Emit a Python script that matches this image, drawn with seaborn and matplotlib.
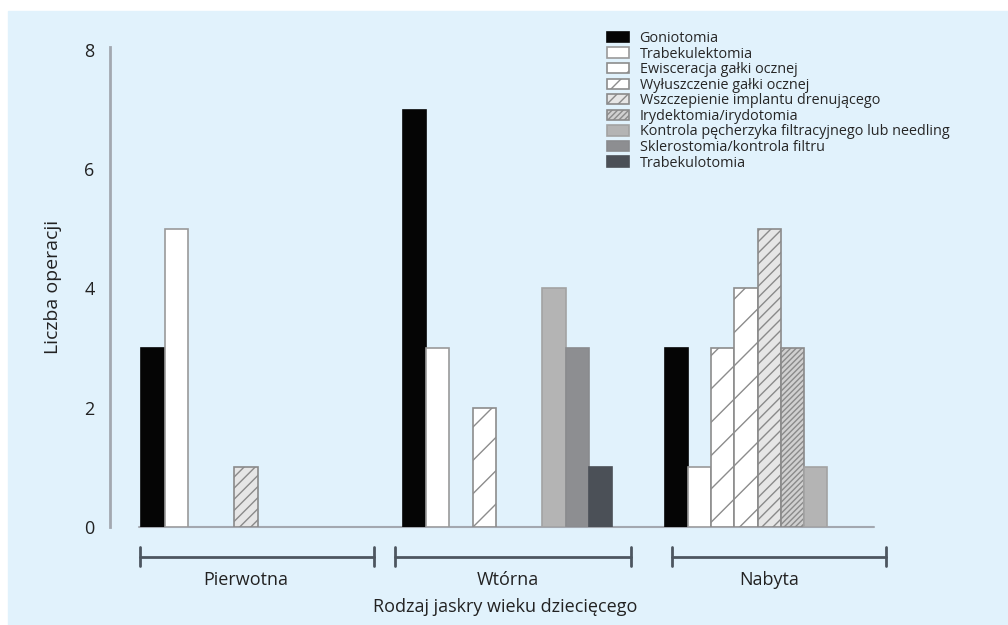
import matplotlib
matplotlib.use('Agg')
import matplotlib.pyplot as plt
import seaborn as sns
import pandas as pd
from matplotlib.patches import Patch, Rectangle

# data
groups = ['Pierwotna', 'Wtórna', 'Nabyta']
operations = ['Goniotomia', 'Trabekulektomia', 'Ewisceracja gałki ocznej',
              'Wyłuszczenie gałki ocznej', 'Wszczepienie implantu drenującego',
              'Irydektomia/irydotomia',
              'Kontrola pęcherzyka filtracyjnego lub needling',
              'Sklerostomia/kontrola filtru', 'Trabekulotomia']
goniotomia = [3, 7, 3]
trabekulektomia = [5, 3, 1]
ewisceracja = [0, 0, 3]
wyluszczenie = [0, 2, 4]
wszczepienie = [1, 0, 5]
irydektomia = [0, 0, 3]
kontrola = [0, 4, 1]
sklerostomia = [0, 3, 0]
trabekulotomia = [0, 1, 0]
y_ticks = [0, 2, 4, 6, 8]

# styles per operation: face, edge, hatch
faces = ['#050505', '#ffffff', '#ffffff', '#ffffff', '#e6e6e6',
         '#d0d0d0', '#b4b4b4', '#8d8e91', '#4b5057']
edges = ['#050505', '#9a9a9a', '#8c8c8c', '#8c8c8c', '#8a8a8a',
         '#8a8a8a', '#a3a3a3', '#8a8b8e', '#4b5057']
hatches = [None, None, '/', '/', '///', '//////', None, None, None]

BG = '#e1f2fc'


def build_frame():
    series = [goniotomia, trabekulektomia, ewisceracja, wyluszczenie,
              wszczepienie, irydektomia, kontrola, sklerostomia, trabekulotomia]
    rows = []
    for op, vals in zip(operations, series):
        for g, v in zip(groups, vals):
            rows.append({'group': g, 'operation': op, 'count': v})
    return pd.DataFrame(rows)


def plot_chart(df):
    sns.set_style('white')
    plt.rcParams['font.family'] = ['Open Sans', 'DejaVu Sans']
    plt.rcParams['hatch.linewidth'] = 1.0

    fig = plt.figure(figsize=(10.08, 6.25), dpi=100, facecolor='white')
    fig.patches.append(Rectangle((8 / 1008, 0), 1, 1 - 11 / 625,
                                 transform=fig.transFigure, color=BG, zorder=-1))
    ax = fig.add_axes([110 / 1008, 98 / 625, 790 / 1008, 480 / 625])
    ax.set_facecolor('none')

    sns.barplot(data=df, x='group', y='count', hue='operation',
                order=groups, hue_order=operations, palette=faces,
                width=0.8, saturation=1, legend=False, ax=ax)

    for i, cont in enumerate(ax.containers):
        for bar in cont:
            bar.set_facecolor(faces[i])
            bar.set_edgecolor(edges[i])
            bar.set_linewidth(1.2 if bar.get_height() > 0 else 0)
            if hatches[i]:
                bar.set_hatch(hatches[i])

    ax.set_xlim(-0.52, 2.5)
    ax.set_ylim(0, 8.05)
    ax.set_yticks(y_ticks)
    ax.tick_params(axis='y', length=3, width=1, color='#a0a4ab',
                   labelsize=13, pad=8, labelcolor='#222222')
    ax.tick_params(axis='x', length=0, labelsize=13, pad=32, labelcolor='#222222')
    for s in ['top', 'right', 'bottom']:
        ax.spines[s].set_visible(False)
    ax.spines['left'].set_color('#a3a8b0')
    ax.spines['left'].set_linewidth(2)

    # baseline under the bars
    ax.plot([-0.41, 2.4], [0, 0], color='#a3a8b0', lw=1.5, clip_on=False, zorder=0)

    # group brackets
    spans = [(-0.405, 0.49), (0.57, 1.47), (1.63, 2.445)]
    for a, b in spans:
        ax.plot([a, b], [-0.5, -0.5], color='#4d5660', lw=2, clip_on=False)
        for x in (a, b):
            ax.plot([x, x], [-0.34, -0.66], color='#4d5660', lw=2, clip_on=False)

    ax.set_xlabel('Rodzaj jaskry wieku dziecięcego', fontsize=13, color='#222222')
    ax.xaxis.set_label_coords(0.5, -(598 - 527) / 480)
    ax.set_ylabel('Liczba operacji', fontsize=14, labelpad=16, color='#222222')

    handles = [Patch(facecolor=faces[i], edgecolor=edges[i], hatch=hatches[i],
                     linewidth=1.2) for i in range(len(operations))]
    fig.legend(handles, operations, loc='upper left',
               bbox_to_anchor=(607 / 1008, 1 - 31 / 625), frameon=False,
               fontsize=10.4, handlelength=1.5, handleheight=0.72,
               handletextpad=0.75, labelspacing=0.04, borderpad=0,
               borderaxespad=0)

    fig.savefig('out.png', dpi=100, facecolor='white')


def main():
    df = build_frame()
    plot_chart(df)


if __name__ == '__main__':
    main()
